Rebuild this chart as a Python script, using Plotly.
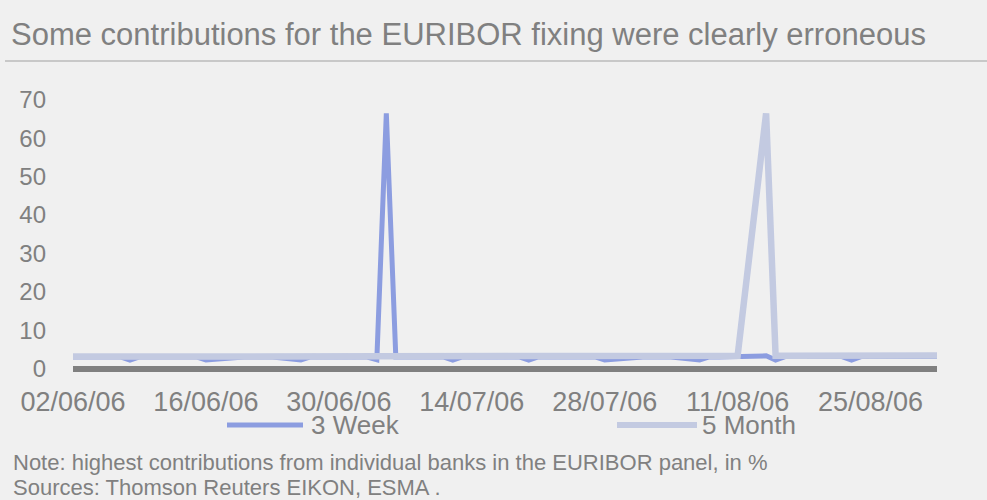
import plotly.graph_objects as go
import pandas as pd

W, H = 987, 500

# ---------------- data ----------------
start_date = "2006-06-02"
end_date = "2006-09-01"
dates = pd.bdate_range(start_date, end_date)  # EURIBOR business-day fixings

series_names = ["3 Week", "5 Month"]

week3 = [
    3.0, 3.0, 3.0, 3.0, 2.2, 3.0,            # 02/06 - 09/06
    3.0, 3.0, 3.0, 3.0, 2.2,                 # 12/06 - 16/06
    3.0, 3.0, 3.0, 3.0, 3.0,                 # 19/06 - 23/06
    2.2, 3.0, 3.0, 3.0, 3.0,                 # 26/06 - 30/06
    3.0, 2.3, 66.5, 3.0, 3.0,                # 03/07 - 07/07
    3.0, 3.0, 2.2, 3.0, 3.0,                 # 10/07 - 14/07
    3.0, 3.0, 3.0, 2.2, 3.0,                 # 17/07 - 21/07
    3.0, 3.0, 3.0, 3.0, 2.2,                 # 24/07 - 28/07
    3.0, 3.0, 3.0, 3.0, 3.0,                 # 31/07 - 04/08
    2.2, 3.0, 3.0, 3.0, 3.3,                 # 07/08 - 11/08
    3.3, 2.2, 3.1, 3.1, 3.1,                 # 14/08 - 18/08
    3.1, 3.1, 2.2, 3.1, 3.1,                 # 21/08 - 25/08
    3.1, 3.1, 3.1, 3.1, 3.1,                 # 28/08 - 01/09
]

month5 = [
    3.1, 3.1, 3.1, 3.1, 3.1, 3.1,
    3.1, 3.1, 3.1, 3.1, 3.15,
    3.15, 3.15, 3.15, 3.15, 3.15,
    3.2, 3.2, 3.2, 3.2, 3.2,
    3.2, 3.2, 3.2, 3.2, 3.2,
    3.2, 3.2, 3.2, 3.2, 3.2,
    3.2, 3.2, 3.2, 3.2, 3.2,
    3.25, 3.25, 3.25, 3.25, 3.25,
    3.25, 3.25, 3.25, 3.25, 3.25,
    3.3, 3.3, 3.3, 3.3, 3.3,
    66.5, 3.35, 3.35, 3.35, 3.35,
    3.35, 3.35, 3.35, 3.4, 3.4,
    3.4, 3.4, 3.4, 3.4, 3.4,
]

tick_dates = ["2006-06-02", "2006-06-16", "2006-06-30", "2006-07-14",
              "2006-07-28", "2006-08-11", "2006-08-25"]
tick_labels = ["02/06/06", "16/06/06", "30/06/06", "14/07/06",
               "28/07/06", "11/08/06", "25/08/06"]
y_ticks = [0, 10, 20, 30, 40, 50, 60, 70]

title_text = "Some contributions for the EURIBOR fixing were clearly erroneous"
note_text = "Note: highest contributions from individual banks in the EURIBOR panel, in %"
source_text = "Sources: Thomson Reuters EIKON, ESMA ."

# ---------------- style ----------------
FONT = "Liberation Sans, Arial, sans-serif"
TXT = "#808080"
BG = "#f0f0f0"
C_WEEK = "rgb(140,157,224)"
C_MONTH = "rgb(195,202,225)"

# plot area in pixels
L, R, T, B = 73, 937, 92, 376
PW, PH = R - L, B - T
y_zero_px, px_per_unit = 368.5, 3.836
Y_MAX = (y_zero_px - T) / px_per_unit
Y_MIN = -(B - y_zero_px) / px_per_unit


def ax(x):
    return (x - L) / PW


def ay(y):
    return (B - y) / PH


fig = go.Figure()
fig.add_trace(go.Scatter(x=dates, y=week3, mode="lines", name=series_names[0],
                         line=dict(color=C_WEEK, width=5), showlegend=False))
fig.add_trace(go.Scatter(x=dates, y=month5, mode="lines", name=series_names[1],
                         line=dict(color=C_MONTH, width=6.5), showlegend=False))

fig.update_layout(
    width=W, height=H, autosize=False,
    margin=dict(l=L, r=W - R, t=T, b=H - B, pad=0, autoexpand=False),
    paper_bgcolor=BG, plot_bgcolor=BG,
    font=dict(family=FONT, color=TXT),
    showlegend=False,
    xaxis=dict(
        type="date", range=[start_date, end_date], automargin=False,
        tickvals=tick_dates, ticktext=tick_labels,
        tickfont=dict(size=27, color=TXT, family=FONT),
        showgrid=False, zeroline=False, showline=False, ticks="",
        ticklabelstandoff=7,
    ),
    yaxis=dict(
        range=[Y_MIN, Y_MAX], automargin=False,
        tickvals=y_ticks,
        tickfont=dict(size=24, color=TXT, family=FONT),
        showgrid=False, showline=False, ticks="",
        zeroline=True, zerolinecolor="#808080", zerolinewidth=6,
        ticklabelstandoff=26,
    ),
)

shapes = [
    dict(type="line", xref="paper", yref="paper", x0=ax(5), x1=ax(987),
         y0=ay(61), y1=ay(61), line=dict(color="#c8c8c8", width=2)),
    dict(type="line", xref="paper", yref="paper", x0=ax(227), x1=ax(303),
         y0=ay(425), y1=ay(425), line=dict(color=C_WEEK, width=5)),
    dict(type="line", xref="paper", yref="paper", x0=ax(617), x1=ax(697),
         y0=ay(425), y1=ay(425), line=dict(color=C_MONTH, width=6)),
]
fig.update_layout(shapes=shapes)

ann = [
    dict(text=title_text, x=ax(9), y=ay(35), size=31),
    dict(text=series_names[0], x=ax(309), y=ay(425), size=26),
    dict(text=series_names[1], x=ax(700), y=ay(425), size=26),
    dict(text=note_text, x=ax(11), y=ay(462), size=22),
    dict(text=source_text, x=ax(11), y=ay(487), size=22),
]
for a in ann:
    fig.add_annotation(text=a["text"], x=a["x"], y=a["y"], xref="paper", yref="paper",
                       xanchor="left", yanchor="middle", showarrow=False,
                       font=dict(size=a["size"], color=TXT, family=FONT))

fig.write_html("out.html")
